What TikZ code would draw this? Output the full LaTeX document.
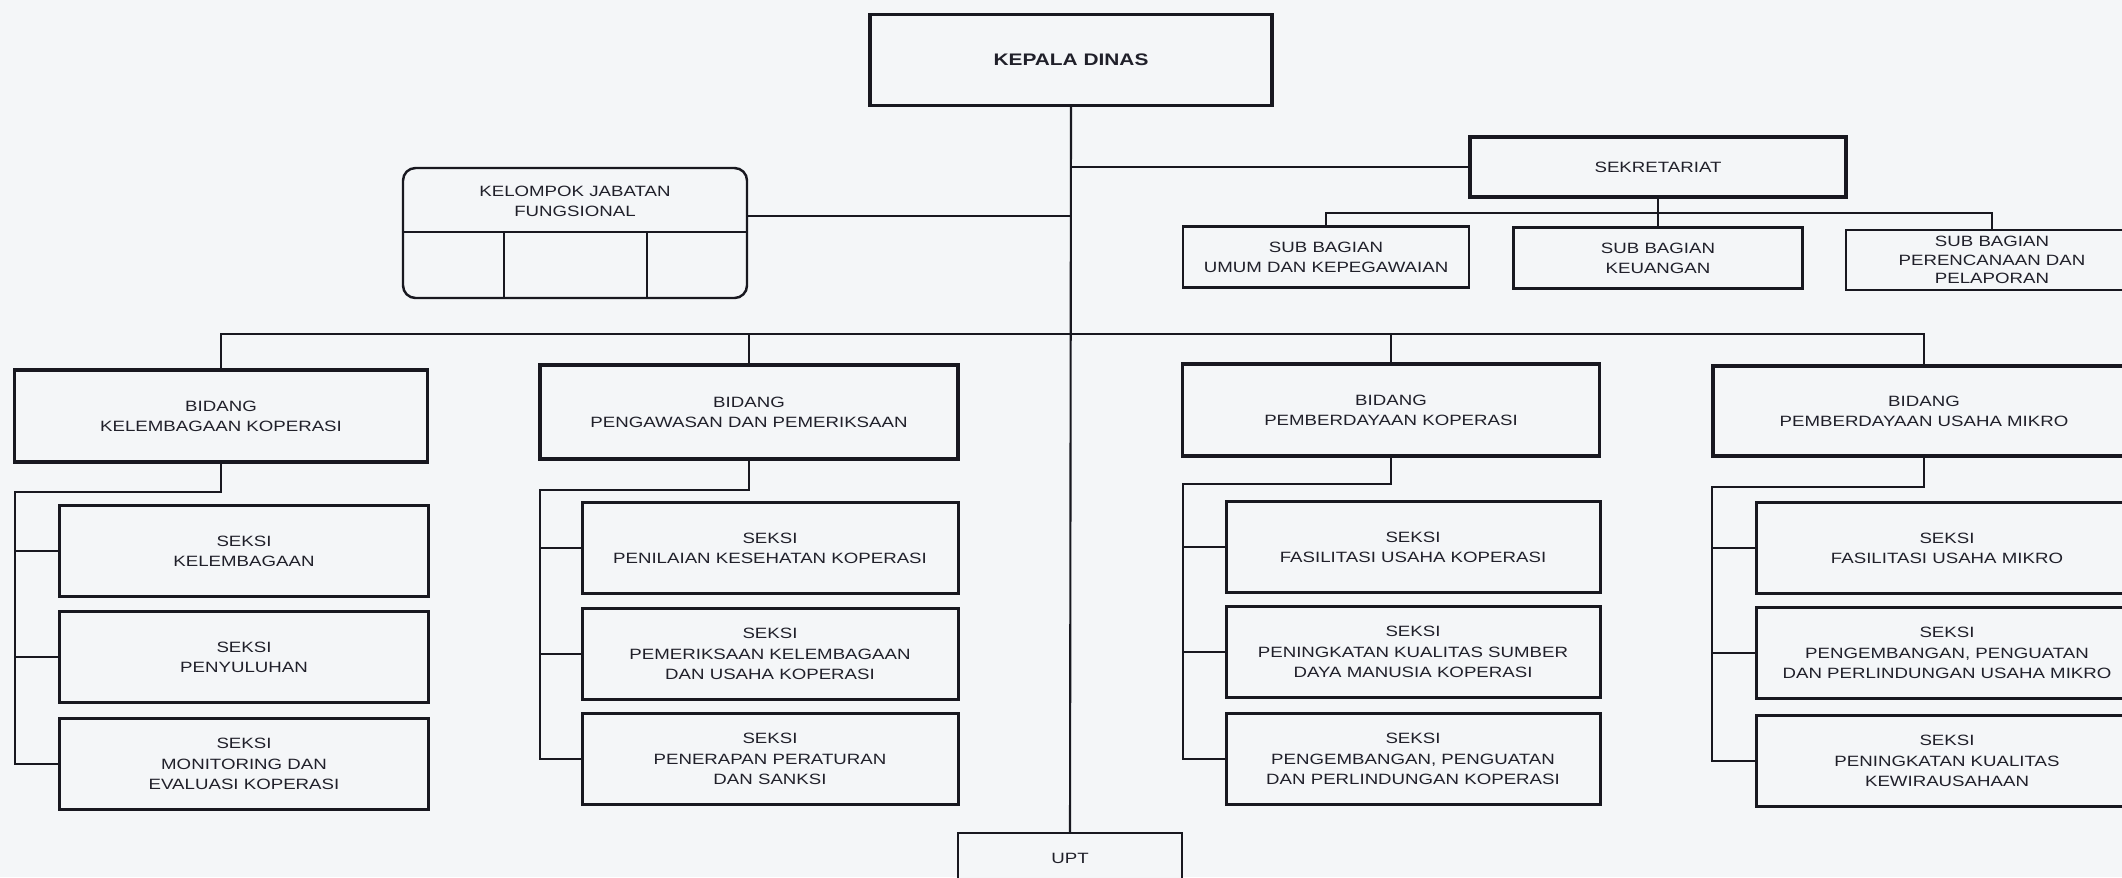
\documentclass[tikz,border=0pt]{standalone}
\usepackage{fontspec}
\setmainfont{Liberation Sans}[FakeStretch=1.25]
\usepackage{tikz}
\definecolor{paper}{RGB}{244,246,248}
\definecolor{ink}{RGB}{24,24,32}
\definecolor{txt}{RGB}{32,32,42}
\tikzset{font={\fontsize{8.5pt}{11.5}\selectfont}}
\tikzset{
	unit/.style={draw=ink, line width=1.9pt, fill=paper, text=txt, align=center, inner sep=0pt},
	subunit/.style={unit, line width=1.4pt},
	seksi/.style={unit, line width=1.7pt, minimum height=18.2mm},
	link/.style={draw=ink, line width=1.4pt, line cap=rect}
	}

\begin{document}
\begin{tikzpicture}[x=0.2mm, y=-0.2mm]
                \fill[paper] (0,0) rectangle (2122,877);
                \useasboundingbox (0,0) rectangle (2122,877);
                \clip (0,0) rectangle (2122,877);
                % pimpinan dan sekretariat
                \node (kd) [unit, font=\fontsize{9.5pt}{12}\selectfont\bfseries, minimum width=80.4mm, minimum height=18.2mm] at (1071,60) {KEPALA DINAS};
                \node (sek) [unit, minimum width=75.2mm, minimum height=12mm] at (1658,167) {SEKRETARIAT};
                \node (sb1) [subunit, minimum width=57.2mm, minimum height=12.2mm] at (1326,257) {SUB BAGIAN\\UMUM DAN KEPEGAWAIAN};
                \node (sb2) [subunit, minimum width=57.8mm, minimum height=12.2mm] at (1658,258) {SUB BAGIAN\\KEUANGAN};
                \node (sb3) [subunit, minimum width=58.4mm, minimum height=12mm, font=\fontsize{8.5pt}{10.5}\selectfont] at (1992,260) {SUB BAGIAN\\PERENCANAAN DAN\\PELAPORAN};
                \node (kjf) [draw=ink, line width=1.4pt, rounded corners=2.5mm, fill=paper, minimum width=68.8mm, minimum height=26mm] at (575,233) {};
                \node (kjft) [text=txt, align=center] at (575,201) {KELOMPOK JABATAN\\FUNGSIONAL};
                % bidang
                \node (b1) [unit, minimum width=82.6mm, minimum height=18.4mm] at (221,416) {BIDANG\\KELEMBAGAAN KOPERASI};
                \node (b2) [unit, minimum width=83.6mm, minimum height=18.8mm] at (749,412) {BIDANG\\PENGAWASAN DAN PEMERIKSAAN};
                \node (b3) [unit, minimum width=83.4mm, minimum height=18.4mm] at (1391,410) {BIDANG\\PEMBERDAYAAN KOPERASI};
                \node (b4) [unit, minimum width=84.4mm, minimum height=18mm] at (1924,411) {BIDANG\\PEMBERDAYAAN USAHA MIKRO};
                % seksi
                \node (s11) [seksi, minimum width=73.8mm] at (244,551) {SEKSI\\KELEMBAGAAN};
                \node (s12) [seksi, minimum width=73.8mm] at (244,657) {SEKSI\\PENYULUHAN};
                \node (s13) [seksi, minimum width=73.8mm] at (244,764) {SEKSI\\MONITORING DAN\\EVALUASI KOPERASI};
                \node (s21) [seksi, minimum width=75.2mm] at (770,548) {SEKSI\\PENILAIAN KESEHATAN KOPERASI};
                \node (s22) [seksi, minimum width=75.2mm] at (770,654) {SEKSI\\PEMERIKSAAN KELEMBAGAAN\\DAN USAHA KOPERASI};
                \node (s23) [seksi, minimum width=75.2mm] at (770,759) {SEKSI\\PENERAPAN PERATURAN\\DAN SANKSI};
                \node (s31) [seksi, minimum width=74.8mm] at (1413,547) {SEKSI\\FASILITASI USAHA KOPERASI};
                \node (s32) [seksi, minimum width=74.8mm] at (1413,652) {SEKSI\\PENINGKATAN KUALITAS SUMBER\\DAYA MANUSIA KOPERASI};
                \node (s33) [seksi, minimum width=74.8mm] at (1413,759) {SEKSI\\PENGEMBANGAN, PENGUATAN\\DAN PERLINDUNGAN KOPERASI};
                \node (s41) [seksi, minimum width=76.4mm] at (1947,548) {SEKSI\\FASILITASI USAHA MIKRO};
                \node (s42) [seksi, minimum width=76.4mm] at (1947,653) {SEKSI\\PENGEMBANGAN, PENGUATAN\\DAN PERLINDUNGAN USAHA MIKRO};
                \node (s43) [seksi, minimum width=76.4mm] at (1947,761) {SEKSI\\PENINGKATAN KUALITAS\\KEWIRAUSAHAAN};
                \node (upt) [subunit, minimum width=44.8mm, minimum height=10mm] at (1070,858) {UPT};
                % garis
                \coordinate (sbus) at (0,213);
                \coordinate (bus) at (0,334);
                \coordinate (kjfport) at ([yshift=3.4mm]kjf.east);
                \coordinate (kjfrow) at (575,232);
                \coordinate (c1) at (504,232);
                \coordinate (c2) at (647,232);
                \coordinate (j1) at (15,492);
                \coordinate (j2) at (540,490);
                \coordinate (j3) at (1183,484);
                \coordinate (j4) at (1712,487);
                \draw[link, line cap=butt] (kjf.west |- kjfrow) -- (kjf.east |- kjfrow);
                \draw[link, line width=1.2pt, line cap=butt] (c1) -- (c1 |- kjf.south);
                \draw[link, line width=1.2pt, line cap=butt] (c2) -- (c2 |- kjf.south);
                \draw[link, line width=1.2pt] (kd.south) -- (upt.north);
                \draw[link] (kd.south |- sek.west) -- (sek.west);
                \draw[link] (kjfport) -- (kjfport -| kd.south);
                \draw[link] (sb1.north) -- (sb1.north |- sbus) -- (sb3.north |- sbus) -- (sb3.north);
                \draw[link] (sek.south) -- (sb2.north);
                \draw[link] (b1.north) -- (b1.north |- bus) -- (b4.north |- bus) -- (b4.north);
                \draw[link] (b2.north) -- (b2.north |- bus);
                \draw[link] (b3.north) -- (b3.north |- bus);
                \draw[link] (b1.south) |- (j1);
                \draw[link] (b2.south) |- (j2);
                \draw[link] (b3.south) |- (j3);
                \draw[link] (b4.south) |- (j4);
                \foreach \c in {1,2,3,4}
                    \foreach \i in {1,2,3}
                        \draw[link] (j\c) |- (s\c\i.west);
            \end{tikzpicture}
\end{document}
